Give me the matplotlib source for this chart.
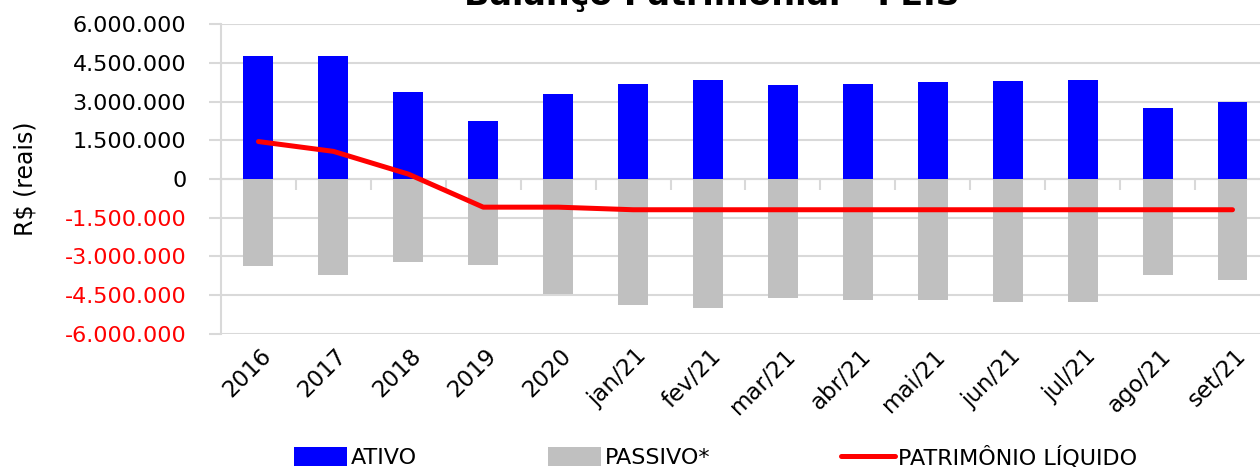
import matplotlib
matplotlib.use("Agg")
import matplotlib.pyplot as plt
from matplotlib.ticker import FuncFormatter, FixedLocator
import numpy as np

# Valores (R$)
categorias = ["2016", "2017", "2018", "2019", "2020", "jan/21", "fev/21", "mar/21",
              "abr/21", "mai/21", "jun/21", "jul/21", "ago/21", "set/21"]
ativo = [4780000, 4780000, 3370000, 2250000, 3280000, 3670000, 3850000, 3620000,
         3690000, 3760000, 3810000, 3840000, 2750000, 3000000]
passivo = [-3360000, -3700000, -3210000, -3340000, -4450000, -4880000, -4990000, -4610000,
           -4670000, -4700000, -4770000, -4770000, -3700000, -3920000]
patrimonio = [1450000, 1070000, 190000, -1090000, -1090000, -1190000, -1190000, -1190000,
              -1190000, -1190000, -1190000, -1190000, -1190000, -1190000]

plt.rcParams["font.family"] = ["DejaVu Sans"]

fig = plt.figure(figsize=(12.6, 4.67), dpi=100)
ax = fig.add_axes([0.1754, 0.2848, 0.8325, 0.6638])

x = np.arange(len(categorias))
b1 = ax.bar(x, ativo, width=0.4, color="#0000FF", label="ATIVO", zorder=2)
b2 = ax.bar(x, passivo, width=0.4, color="#C0C0C0", label="PASSIVO*", zorder=2)
l1, = ax.plot(x, patrimonio, color="#FF0000", lw=3.6, solid_capstyle="round",
              label="PATRIMÔNIO LÍQUIDO", zorder=3)

ax.set_xlim(-0.5, len(categorias) - 0.5)
ax.set_ylim(-6000000, 6000000)
ax.set_yticks(np.arange(-6000000, 6000001, 1500000))
ax.yaxis.set_major_formatter(FuncFormatter(lambda v, p: f"{v:,.0f}".replace(",", ".")))
fig.canvas.draw()
for lbl, v in zip(ax.get_yticklabels(), ax.get_yticks()):
    lbl.set_color("#FF0000" if v < 0 else "black")
ax.tick_params(axis="y", labelsize=16, length=9, color="#D9D9D9", width=1.5, pad=16)
ax.grid(axis="y", color="#D9D9D9", lw=1.5, zorder=0)

# eixo x no zero, com marcas entre categorias
for s in ["top", "right"]:
    ax.spines[s].set_visible(False)
ax.spines["left"].set_color("#D9D9D9")
ax.spines["left"].set_linewidth(1.5)
ax.spines["bottom"].set_position(("data", 0))
ax.spines["bottom"].set_color("#D9D9D9")
ax.spines["bottom"].set_linewidth(1.5)
ax.spines["bottom"].set_zorder(1)
ax.set_xticks(x)
ax.set_xticklabels([])
ax.tick_params(axis="x", which="major", length=0)
ax.xaxis.set_minor_locator(FixedLocator(np.arange(-0.5, len(categorias), 1.0)))
ax.tick_params(axis="x", which="minor", length=8, color="#D9D9D9", width=1.5, direction="out")

for xi, cat in zip(x, categorias):
    ax.text(xi + 0.13, -0.06, cat, transform=ax.get_xaxis_transform(), rotation=45,
            ha="right", va="center", rotation_mode="anchor", fontsize=16.5)

ax.set_ylabel("R$ (reais)", fontsize=17)
ax.yaxis.set_label_coords(-0.175, 0.5)

fig.text(0.565, 1 - 5 / 467, "Balanço Patrimonial - FEIS", ha="center", va="baseline",
         fontsize=24, fontweight="bold")

fig.legend(handles=[b1, b2, l1], loc="lower center", bbox_to_anchor=(0.568, -0.045),
           ncol=3, frameon=False, fontsize=16, handlelength=2.4, handleheight=0.9,
           columnspacing=5.9, handletextpad=0.15)

fig.savefig("out.png", dpi=100)
